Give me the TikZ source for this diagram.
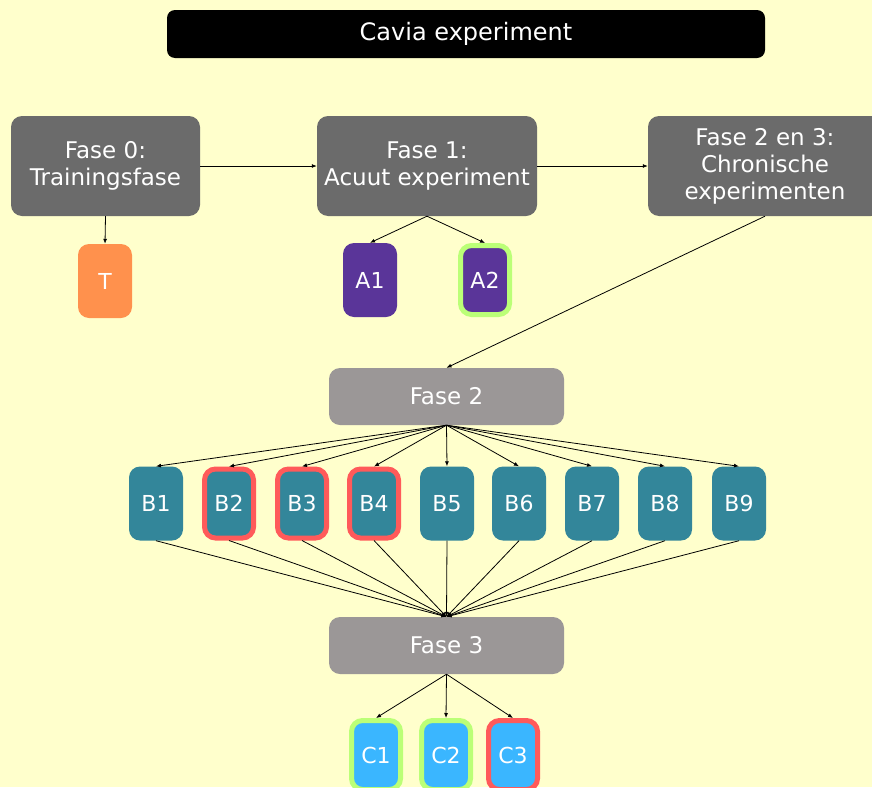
\documentclass[tikz,border=0pt]{standalone}
\usepackage{fontspec}
\setmainfont{DejaVu Sans}
\usetikzlibrary{positioning, arrows.meta}

\definecolor{bgyellow}{HTML}{FFFFCC}
\definecolor{fasegray}{HTML}{6B6B6B}
\definecolor{subgray}{HTML}{9B9797}
\definecolor{torange}{HTML}{FF914D}
\definecolor{apurple}{HTML}{5A3599}
\definecolor{bteal}{HTML}{33869A}
\definecolor{cblue}{HTML}{3AB6FF}
\definecolor{okgreen}{HTML}{BBFF77}
\definecolor{badred}{HTML}{FF5A5A}

\begin{document}
\begin{tikzpicture}[x=1pt, y=-1pt,
  title/.style={fill=black, rounded corners=8pt, minimum width=598pt, minimum height=48pt,
                text=white, font=\fontsize{24}{28}\selectfont},
  fase/.style={fill=fasegray, rounded corners=11pt, minimum height=100pt, align=center,
               inner sep=2pt, text=white, font=\fontsize{23}{27}\selectfont},
  sub/.style={fill=subgray, rounded corners=11pt, minimum width=235pt, minimum height=57pt,
              text=white, font=\fontsize{23}{27}\selectfont},
  group/.style={fill=#1, rounded corners=11pt, minimum width=54pt, minimum height=74pt,
                inner sep=0pt, text=white, font=\fontsize{22}{26}\selectfont},
  ok/.style={draw=okgreen, line width=5pt, minimum width=49pt, minimum height=69pt},
  bad/.style={draw=badred, line width=5pt, minimum width=49pt, minimum height=69pt},
  arr/.style={-{Latex[length=5pt, width=4pt]}, line width=0.8pt, color=black},
]

\useasboundingbox[fill=bgyellow] (0,0) rectangle (872,787);

% --- Title ---
\node[title] (title) at (466,34) {Cavia experiment};

% --- Phases ---
\node[fase, minimum width=189pt] (f0) at (105.5,166) {Fase 0:\\Trainingsfase};
\node[fase, minimum width=220pt] (f1) at (427,166) {Fase 1:\\Acuut experiment};
\node[fase, minimum width=234pt] (f23) at (765,166) {Fase 2 en 3:\\Chronische\\experimenten};

% --- Groups phase 0 and 1 ---
\node[group=torange] (t) at (105,281) {T};
\node[group=apurple] (a1) at (370,280) {A1};
\node[group=apurple, ok] (a2) at (485,280) {A2};

% --- Phase 2 ---
\node[sub] (f2) at (446.5,396.5) {Fase 2};
\foreach \i/\x/\s in {1/156/, 2/229/bad, 3/302/bad, 4/374/bad, 5/447/, 6/519/, 7/592/, 8/665/, 9/739/}
  \node[group=bteal, \s] (b\i) at (\x,503.5) {B\i};

% --- Phase 3 ---
\node[sub] (f3) at (446.5,645.5) {Fase 3};
\node[group=cblue, ok] (c1) at (376,755) {C1};
\node[group=cblue, ok] (c2) at (446,755) {C2};
\node[group=cblue, bad] (c3) at (513,755) {C3};

% --- Arrows ---
\draw[arr] (f0) -- (f1);
\draw[arr] (f1) -- (f23);
\draw[arr] (f0.south) -- (t.north);
\draw[arr] (f1.south) -- (a1.north);
\draw[arr] (f1.south) -- (a2.north);
\draw[arr] (f23.south) -- (f2.north);
\foreach \i in {1,...,9} {
  \draw[arr] (f2.south) -- (b\i.north);
  \draw[arr] (b\i.south) -- (f3.north);
}
\draw[arr] (f3.south) -- (c1.north);
\draw[arr] (f3.south) -- (c2.north);
\draw[arr] (f3.south) -- (c3.north);

\end{tikzpicture}
\end{document}
